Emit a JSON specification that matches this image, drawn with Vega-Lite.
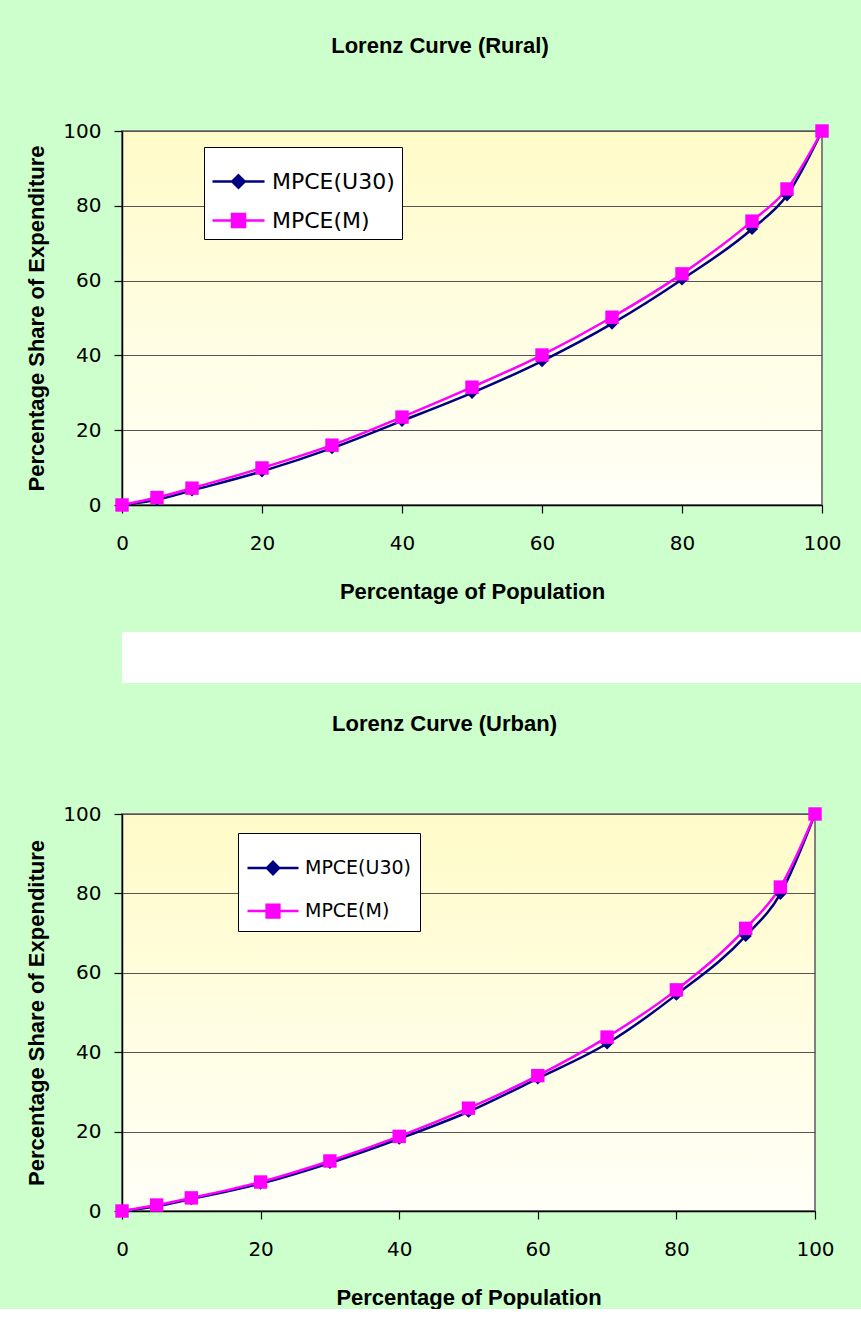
{
  "$schema": "https://vega.github.io/schema/vega-lite/v6.json",
  "background": "#CCFFCC",
  "padding": {"left": 24, "right": 0, "top": 34, "bottom": 0},
  "spacing": 29,
  "resolve": {
    "scale": {"color": "independent", "fill": "independent", "stroke": "independent", "shape": "independent"},
    "legend": {"color": "independent", "fill": "independent", "stroke": "independent", "shape": "independent"}
  },
  "datasets": {
    "rural": [
      {"series": "MPCE(U30)", "pop": 0, "share": 0},
      {"series": "MPCE(U30)", "pop": 5, "share": 1.4},
      {"series": "MPCE(U30)", "pop": 10, "share": 3.9},
      {"series": "MPCE(U30)", "pop": 20, "share": 9.0},
      {"series": "MPCE(U30)", "pop": 30, "share": 15.2},
      {"series": "MPCE(U30)", "pop": 40, "share": 22.5},
      {"series": "MPCE(U30)", "pop": 50, "share": 30.0},
      {"series": "MPCE(U30)", "pop": 60, "share": 38.5},
      {"series": "MPCE(U30)", "pop": 70, "share": 48.5},
      {"series": "MPCE(U30)", "pop": 80, "share": 60.3},
      {"series": "MPCE(U30)", "pop": 90, "share": 73.8},
      {"series": "MPCE(U30)", "pop": 95, "share": 82.8},
      {"series": "MPCE(U30)", "pop": 100, "share": 100},
      {"series": "MPCE(M)", "pop": 0, "share": 0},
      {"series": "MPCE(M)", "pop": 5, "share": 2.0},
      {"series": "MPCE(M)", "pop": 10, "share": 4.5},
      {"series": "MPCE(M)", "pop": 20, "share": 9.9},
      {"series": "MPCE(M)", "pop": 30, "share": 16.0},
      {"series": "MPCE(M)", "pop": 40, "share": 23.5},
      {"series": "MPCE(M)", "pop": 50, "share": 31.5},
      {"series": "MPCE(M)", "pop": 60, "share": 40.1},
      {"series": "MPCE(M)", "pop": 70, "share": 50.2},
      {"series": "MPCE(M)", "pop": 80, "share": 61.8},
      {"series": "MPCE(M)", "pop": 90, "share": 75.9},
      {"series": "MPCE(M)", "pop": 95, "share": 84.5},
      {"series": "MPCE(M)", "pop": 100, "share": 100}
    ],
    "urban": [
      {"series": "MPCE(U30)", "pop": 0, "share": 0},
      {"series": "MPCE(U30)", "pop": 5, "share": 1.2},
      {"series": "MPCE(U30)", "pop": 10, "share": 3.0},
      {"series": "MPCE(U30)", "pop": 20, "share": 6.9},
      {"series": "MPCE(U30)", "pop": 30, "share": 12.1},
      {"series": "MPCE(U30)", "pop": 40, "share": 18.2},
      {"series": "MPCE(U30)", "pop": 50, "share": 25.0},
      {"series": "MPCE(U30)", "pop": 60, "share": 33.4},
      {"series": "MPCE(U30)", "pop": 70, "share": 42.2},
      {"series": "MPCE(U30)", "pop": 80, "share": 54.5},
      {"series": "MPCE(U30)", "pop": 90, "share": 69.3},
      {"series": "MPCE(U30)", "pop": 95, "share": 79.9},
      {"series": "MPCE(U30)", "pop": 100, "share": 100},
      {"series": "MPCE(M)", "pop": 0, "share": 0},
      {"series": "MPCE(M)", "pop": 5, "share": 1.5},
      {"series": "MPCE(M)", "pop": 10, "share": 3.3},
      {"series": "MPCE(M)", "pop": 20, "share": 7.3},
      {"series": "MPCE(M)", "pop": 30, "share": 12.6},
      {"series": "MPCE(M)", "pop": 40, "share": 18.8},
      {"series": "MPCE(M)", "pop": 50, "share": 25.9},
      {"series": "MPCE(M)", "pop": 60, "share": 34.1},
      {"series": "MPCE(M)", "pop": 70, "share": 43.8},
      {"series": "MPCE(M)", "pop": 80, "share": 55.7},
      {"series": "MPCE(M)", "pop": 90, "share": 71.2},
      {"series": "MPCE(M)", "pop": 95, "share": 81.6},
      {"series": "MPCE(M)", "pop": 100, "share": 100}
    ]
  },
  "config": {
    "font": "Liberation Sans",
    "title": {"font": "Liberation Sans", "fontSize": 22, "fontWeight": "bold", "color": "black"},
    "axis": {
      "labelFont": "DejaVu Sans", "labelFontSize": 20, "labelColor": "black", "labelFlush": false,
      "titleFont": "Liberation Sans", "titleFontSize": 22, "titleFontWeight": "bold", "titleColor": "black",
      "domainColor": "black", "domainWidth": 1.5, "tickColor": "black", "tickWidth": 1.2, "tickSize": 8,
      "gridColor": "#555555", "gridWidth": 1
    },
    "legend": {"symbolOpacity": 1}
  },
  "vconcat": [
    {
      "width": 700,
      "height": 374,
      "title": {"text": "Lorenz Curve (Rural)", "offset": 63, "dx": -32},
      "data": {"name": "rural"},
      "view": {
        "stroke": "#808080",
        "strokeWidth": 2,
        "fill": {"gradient": "linear", "x1": 0, "y1": 0, "x2": 0, "y2": 1,
                 "stops": [{"offset": 0, "color": "#FFFBC8"}, {"offset": 1, "color": "#FFFFF8"}]}
      },
      "layer": [
        {
          "mark": {"type": "line", "interpolate": "monotone", "strokeWidth": 2.5, "clip": false},
          "encoding": {
            "x": {"field": "pop", "type": "quantitative", "scale": {"domain": [0, 100], "nice": false},
                  "axis": {"values": [0, 20, 40, 60, 80, 100], "title": "Percentage of Population", "grid": false,
                           "labelPadding": 20, "titlePadding": 28, "labelFlush": false}},
            "y": {"field": "share", "type": "quantitative", "scale": {"domain": [0, 100], "nice": false},
                  "axis": {"values": [0, 20, 40, 60, 80, 100], "title": "Percentage Share of Expenditure", "grid": true,
                           "labelPadding": 13, "titlePadding": 14, "labelFlush": false}},
            "color": {"field": "series", "type": "nominal",
                      "scale": {"range": ["#FF00FF", "#000080"]}, "legend": null}
          }
        },
        {
          "transform": [{"filter": "datum.series == 'MPCE(U30)'"}],
          "mark": {"type": "point", "shape": "diamond", "filled": true, "size": 150, "color": "#000080", "opacity": 1, "clip": false},
          "encoding": {"x": {"field": "pop", "type": "quantitative"}, "y": {"field": "share", "type": "quantitative"}}
        },
        {
          "transform": [{"filter": "datum.series == 'MPCE(M)'"}],
          "mark": {"type": "point", "shape": "square", "filled": true, "size": 180, "color": "#FF00FF", "opacity": 1, "clip": false},
          "encoding": {"x": {"field": "pop", "type": "quantitative"}, "y": {"field": "share", "type": "quantitative"}}
        },
        {
          "transform": [{"filter": "false"}],
          "mark": {"type": "point", "filled": true, "opacity": 1, "size": 2704, "strokeWidth": 2.5},
          "encoding": {
            "fill": {"field": "series", "type": "nominal",
                     "scale": {"domain": ["MPCE(U30)", "MPCE(M)"], "range": ["#000080", "#FF00FF"]},
                     "legend": {"orient": "none", "legendX": 82, "legendY": 16, "title": null, "padding": 7,
                                "fillColor": "white", "strokeColor": "black", "labelFont": "DejaVu Sans",
                                "labelFontSize": 22, "labelColor": "black", "symbolSize": 2704, "symbolStrokeWidth": 2.5,
                                "symbolOpacity": 1, "rowPadding": 0, "labelOffset": 6}},
            "stroke": {"field": "series", "type": "nominal",
                       "scale": {"domain": ["MPCE(U30)", "MPCE(M)"], "range": ["#000080", "#FF00FF"]},
                       "legend": {"orient": "none", "legendX": 82, "legendY": 16, "title": null, "padding": 7,
                                  "fillColor": "white", "strokeColor": "black", "labelFont": "DejaVu Sans",
                                  "labelFontSize": 22, "labelColor": "black", "symbolSize": 2704, "symbolStrokeWidth": 2.5,
                                  "symbolOpacity": 1, "rowPadding": 0, "labelOffset": 6}},
            "shape": {"field": "series", "type": "nominal",
                      "scale": {"domain": ["MPCE(U30)", "MPCE(M)"],
                                "range": ["M-1,0H1M0,-0.24L0.24,0L0,0.24L-0.24,0Z", "M-1,0H1M-0.25,-0.25H0.25V0.25H-0.25Z"]},
                      "legend": {"orient": "none", "legendX": 82, "legendY": 16, "title": null, "padding": 7,
                                 "fillColor": "white", "strokeColor": "black", "labelFont": "DejaVu Sans",
                                 "labelFontSize": 22, "labelColor": "black", "symbolSize": 2704, "symbolStrokeWidth": 2.5,
                                 "symbolOpacity": 1, "rowPadding": 0, "labelOffset": 6}}
          }
        }
      ]
    },
    {
      "width": 739,
      "height": 51,
      "data": {"values": [{"a": 1}]},
      "mark": {"type": "point", "opacity": 0},
      "view": {"fill": "white", "stroke": null}
    },
    {
      "width": 693,
      "height": 397,
      "title": {"text": "Lorenz Curve (Urban)", "offset": 68, "dx": -24},
      "data": {"name": "urban"},
      "view": {
        "stroke": "#808080",
        "strokeWidth": 2,
        "fill": {"gradient": "linear", "x1": 0, "y1": 0, "x2": 0, "y2": 1,
                 "stops": [{"offset": 0, "color": "#FFFBC8"}, {"offset": 1, "color": "#FFFFF8"}]}
      },
      "layer": [
        {
          "mark": {"type": "line", "interpolate": "monotone", "strokeWidth": 2.5, "clip": false},
          "encoding": {
            "x": {"field": "pop", "type": "quantitative", "scale": {"domain": [0, 100], "nice": false},
                  "axis": {"values": [0, 20, 40, 60, 80, 100], "title": "Percentage of Population", "grid": false,
                           "labelPadding": 20, "titlePadding": 28, "labelFlush": false}},
            "y": {"field": "share", "type": "quantitative", "scale": {"domain": [0, 100], "nice": false},
                  "axis": {"values": [0, 20, 40, 60, 80, 100], "title": "Percentage Share of Expenditure", "grid": true,
                           "labelPadding": 13, "titlePadding": 14, "labelFlush": false}},
            "color": {"field": "series", "type": "nominal",
                      "scale": {"range": ["#FF00FF", "#000080"]}, "legend": null}
          }
        },
        {
          "transform": [{"filter": "datum.series == 'MPCE(U30)'"}],
          "mark": {"type": "point", "shape": "diamond", "filled": true, "size": 150, "color": "#000080", "opacity": 1, "clip": false},
          "encoding": {"x": {"field": "pop", "type": "quantitative"}, "y": {"field": "share", "type": "quantitative"}}
        },
        {
          "transform": [{"filter": "datum.series == 'MPCE(M)'"}],
          "mark": {"type": "point", "shape": "square", "filled": true, "size": 180, "color": "#FF00FF", "opacity": 1, "clip": false},
          "encoding": {"x": {"field": "pop", "type": "quantitative"}, "y": {"field": "share", "type": "quantitative"}}
        },
        {
          "transform": [{"filter": "false"}],
          "mark": {"type": "point", "filled": true, "opacity": 1, "size": 2601, "strokeWidth": 2.5},
          "encoding": {
            "fill": {"field": "series", "type": "nominal",
                     "scale": {"domain": ["MPCE(U30)", "MPCE(M)"], "range": ["#000080", "#FF00FF"]},
                     "legend": {"orient": "none", "legendX": 116, "legendY": 19, "title": null, "padding": 8,
                                "fillColor": "white", "strokeColor": "black", "labelFont": "DejaVu Sans",
                                "labelFontSize": 19, "labelColor": "black", "symbolSize": 2601, "symbolStrokeWidth": 2.5,
                                "symbolOpacity": 1, "rowPadding": 4, "labelOffset": 5}},
            "stroke": {"field": "series", "type": "nominal",
                       "scale": {"domain": ["MPCE(U30)", "MPCE(M)"], "range": ["#000080", "#FF00FF"]},
                       "legend": {"orient": "none", "legendX": 116, "legendY": 19, "title": null, "padding": 8,
                                  "fillColor": "white", "strokeColor": "black", "labelFont": "DejaVu Sans",
                                  "labelFontSize": 19, "labelColor": "black", "symbolSize": 2601, "symbolStrokeWidth": 2.5,
                                  "symbolOpacity": 1, "rowPadding": 4, "labelOffset": 5}},
            "shape": {"field": "series", "type": "nominal",
                      "scale": {"domain": ["MPCE(U30)", "MPCE(M)"],
                                "range": ["M-1,0H1M0,-0.24L0.24,0L0,0.24L-0.24,0Z", "M-1,0H1M-0.25,-0.25H0.25V0.25H-0.25Z"]},
                      "legend": {"orient": "none", "legendX": 116, "legendY": 19, "title": null, "padding": 8,
                                 "fillColor": "white", "strokeColor": "black", "labelFont": "DejaVu Sans",
                                 "labelFontSize": 19, "labelColor": "black", "symbolSize": 2601, "symbolStrokeWidth": 2.5,
                                 "symbolOpacity": 1, "rowPadding": 4, "labelOffset": 5}}
          }
        }
      ]
    }
  ]
}
